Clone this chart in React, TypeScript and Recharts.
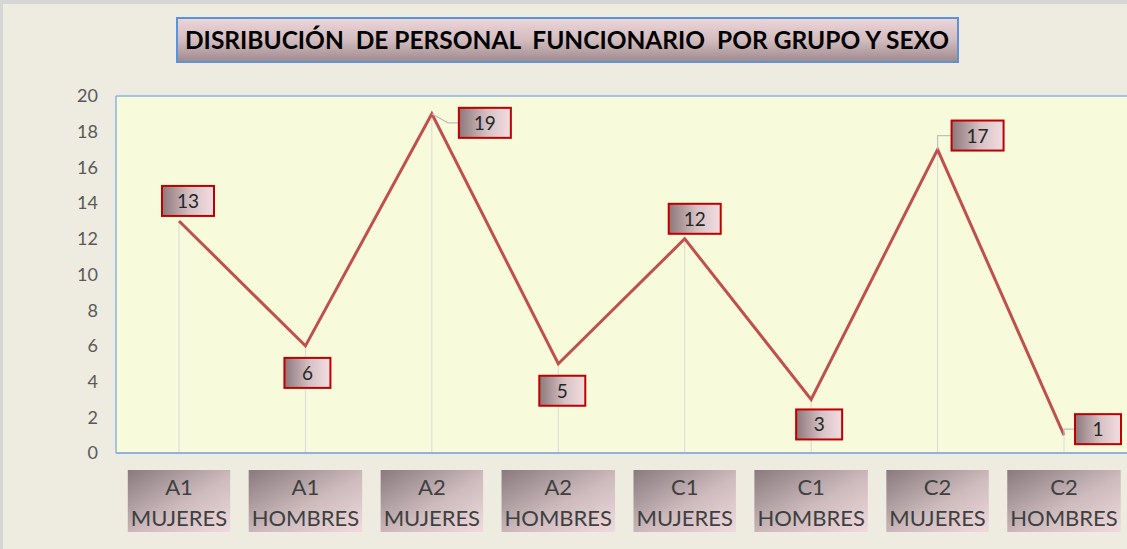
import { LineChart, Line, XAxis, YAxis, CartesianGrid, ReferenceLine, LabelList } from 'recharts';

const categories = [
    'A1 MUJERES',
    'A1 HOMBRES',
    'A2 MUJERES',
    'A2 HOMBRES',
    'C1 MUJERES',
    'C1 HOMBRES',
    'C2 MUJERES',
    'C2 HOMBRES',
];
const personal = [13, 6, 19, 5, 12, 3, 17, 1];
const yTicks = [0, 2, 4, 6, 8, 10, 12, 14, 16, 18, 20];
const title = 'DISRIBUCIÓN  DE PERSONAL  FUNCIONARIO  POR GRUPO Y SEXO';

// label placement (dx, dy from the point, elbow of leader line or null)
const labelNudge: [number, number, number | null][] = [
    [9, -20, null],
    [2, 27, null],
    [53, 9, 16],
    [4, 27, null],
    [10, -20, null],
    [8, 25, null],
    [40, -14, 0],
    [34, -6, 0],
];

const data = categories.map((c, i) => ({ cat: c, value: personal[i] }));

const FONT = 'Lato, "Open Sans", sans-serif';

let measureCtx: CanvasRenderingContext2D | null = null;
function textWidth(s: string, font: string) {
    if (!measureCtx && typeof document !== 'undefined') {
        measureCtx = document.createElement('canvas').getContext('2d');
    }
    if (!measureCtx) return s.length * 13;
    measureCtx.font = font;
    return measureCtx.measureText(s).width;
}

function CategoryTick(props: any) {
    const { x, y, payload } = props;
    const [grp, sex] = String(payload.value).split(' ');
    const font = `22px ${FONT}`;
    const w = Math.max(textWidth(grp, font), textWidth(sex, font)) + 6;
    const top = y + 17;
    return (
        <g>
            <rect x={x - w / 2} y={top} width={w} height={62} fill="url(#tickGrad)" />
            <text x={x} y={top + 25} textAnchor="middle" fontSize={22} fontFamily={FONT} fill="#404040">
                {grp}
            </text>
            <text x={x} y={top + 56} textAnchor="middle" fontSize={22} fontFamily={FONT} fill="#404040">
                {sex}
            </text>
        </g>
    );
}

function ValueLabel(props: any) {
    const { x, y, value, index } = props;
    const [dx, dy, elbow] = labelNudge[index] || [0, -20, null];
    const w = String(value).length > 1 ? 52 : 46;
    const h = 30;
    const cx = x + dx;
    const cy = y + dy;
    return (
        <g>
            {elbow !== null && (
                <polyline
                    points={`${x},${y} ${x + elbow},${cy} ${cx - w / 2},${cy}`}
                    fill="none"
                    stroke="#BFBFBF"
                    strokeWidth={1.2}
                />
            )}
            <rect x={cx - w / 2} y={cy - h / 2} width={w} height={h} fill="url(#labelGrad)" stroke="#C00000" strokeWidth={2} />
            <text x={cx} y={cy + 7} textAnchor="middle" fontSize={19} fontFamily={FONT} fill="#262626">
                {value}
            </text>
        </g>
    );
}

export default function App() {
    return (
        <div style={{ position: 'absolute', left: 0, top: 0, width: 1127, height: 549, background: '#EEEBE0', overflow: 'hidden' }}>
            <div style={{ position: 'absolute', left: 0, top: 0 }}>
                <LineChart width={1127} height={549} data={data} margin={{ top: 96, right: 0, bottom: 0, left: 0 }}>
                    <defs>
                        <linearGradient id="tickGrad" x1="0" y1="0" x2="1" y2="1">
                            <stop offset="0%" stopColor="#8A7A7D" />
                            <stop offset="55%" stopColor="#CDBBBE" />
                            <stop offset="100%" stopColor="#F0DADD" />
                        </linearGradient>
                        <linearGradient id="labelGrad" x1="0" y1="0" x2="1" y2="0">
                            <stop offset="0%" stopColor="#8C777B" />
                            <stop offset="55%" stopColor="#D6C1C5" />
                            <stop offset="100%" stopColor="#F3DDE1" />
                        </linearGradient>
                    </defs>
                    <CartesianGrid fill="#F7FBDC" horizontal={false} vertical={false} />
                    <XAxis
                        dataKey="cat"
                        height={96}
                        padding={{ left: 63, right: 63 }}
                        axisLine={{ stroke: '#6F9FD8', strokeWidth: 1.5 }}
                        tickLine={false}
                        tickSize={0}
                        tickMargin={0}
                        interval={0}
                        tick={<CategoryTick />}
                    />
                    <YAxis
                        width={116}
                        domain={[0, 20]}
                        ticks={yTicks}
                        interval={0}
                        axisLine={{ stroke: '#8DB3E2', strokeWidth: 1.5 }}
                        tickLine={false}
                        tickMargin={12}
                        tick={{ fontSize: 18, fill: '#595959', fontFamily: FONT }}
                    />
                    <ReferenceLine y={20} stroke="#8DB3E2" strokeWidth={1.5} />
                    {data.map((d) => (
                        <ReferenceLine
                            key={d.cat}
                            segment={[
                                { x: d.cat, y: 0 },
                                { x: d.cat, y: d.value },
                            ]}
                            stroke="#D9D9D9"
                            strokeWidth={1}
                        />
                    ))}
                    <Line
                        type="linear"
                        dataKey="value"
                        stroke="#C0504D"
                        strokeWidth={3}
                        dot={false}
                        activeDot={false}
                        isAnimationActive={false}
                    >
                        <LabelList dataKey="value" content={<ValueLabel />} />
                    </Line>
                </LineChart>
            </div>
            <svg style={{ position: 'absolute', left: 0, top: 0 }} width={1127} height={80}>
                <defs>
                    <linearGradient id="titleGrad" x1="0" y1="0" x2="0" y2="1">
                        <stop offset="0%" stopColor="#EDD6DA" />
                        <stop offset="50%" stopColor="#D2BCC0" />
                        <stop offset="100%" stopColor="#9E898D" />
                    </linearGradient>
                </defs>
                <rect x={177} y={18} width={781} height={44} fill="url(#titleGrad)" stroke="#5B93D6" strokeWidth={2} />
                <text
                    x={567}
                    y={49}
                    textAnchor="middle"
                    fontSize={24}
                    fontWeight="bold"
                    fontFamily={FONT}
                    fill="#000000"
                    textLength={764}
                    lengthAdjust="spacingAndGlyphs"
                    style={{ whiteSpace: 'pre' }}
                >
                    {title}
                </text>
            </svg>
            <div style={{ position: 'absolute', left: 0, top: 0, width: 1127, height: 4, background: '#D6D6D6' }} />
            <div style={{ position: 'absolute', left: 0, top: 0, width: 3, height: 549, background: '#D6D6D6' }} />
        </div>
    );
}
